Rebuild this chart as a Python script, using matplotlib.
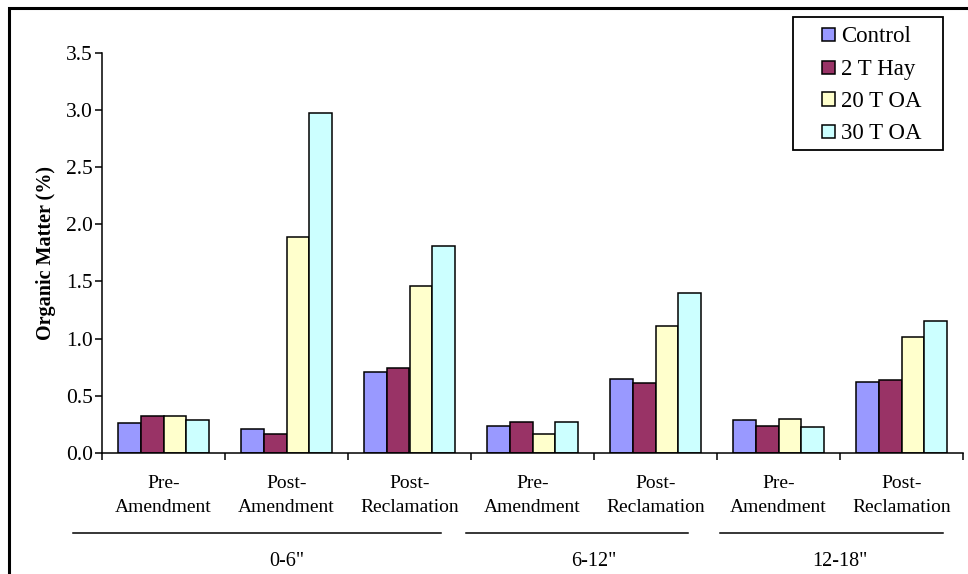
import numpy as np
import matplotlib
matplotlib.use("Agg")
import matplotlib.pyplot as plt
from matplotlib.patches import Rectangle
from matplotlib.lines import Line2D

plt.rcParams['font.family'] = ['Liberation Serif', 'DejaVu Serif']

categories = ["Pre-\nAmendment", "Post-\nAmendment", "Post-\nReclamation",
              "Pre-\nAmendment", "Post-\nReclamation",
              "Pre-\nAmendment", "Post-\nReclamation"]
depths = ['0-6"', '6-12"', '12-18"']
depth_spans = [3, 2, 2]

series_names = ["Control", "2 T Hay", "20 T OA", "30 T OA"]
control = [0.26, 0.21, 0.71, 0.24, 0.65, 0.29, 0.62]
hay_2t = [0.32, 0.17, 0.74, 0.27, 0.61, 0.24, 0.64]
oa_20t = [0.32, 1.89, 1.46, 0.17, 1.11, 0.30, 1.01]
oa_30t = [0.29, 2.97, 1.81, 0.27, 1.40, 0.23, 1.15]
colors = ["#9999FF", "#993366", "#FFFFCC", "#CCFFFF"]

W, H = 968, 574
fig = plt.figure(figsize=(W / 100, H / 100), dpi=100)


def fx(px):
    return px / W


def fy(py):
    return 1 - py / H


# outer frame around the chart area (continues past the right and bottom edges)
fig.patches.append(Rectangle((fx(9), -0.05), 1.2, fy(8) + 0.05,
                             transform=fig.transFigure, fill=False,
                             edgecolor="black", linewidth=2.2, clip_on=False))

ax = fig.add_axes([fx(102), fy(453), fx(963 - 102), (453 - 52.7) / H])

n = len(categories)
x = np.arange(n)
bw = 0.184
all_series = [control, hay_2t, oa_20t, oa_30t]
for i, (vals, c, name) in enumerate(zip(all_series, colors, series_names)):
    offs = (i - 1.5) * bw
    ax.bar(x + offs, vals, width=bw, color=c, edgecolor="black",
           linewidth=1.1, label=name)

ax.set_xlim(-0.5, n - 0.5)
ax.set_ylim(0, 3.5)
yt = np.arange(0, 3.51, 0.5)
ax.set_yticks(yt)
ax.set_yticklabels([f"{v:.1f}" for v in yt], fontsize=15.5)
ax.set_xticks(np.arange(-0.5, n, 1.0))
ax.set_xticklabels([])
ax.tick_params(axis="x", direction="out", length=5, width=1.1)
ax.tick_params(axis="y", direction="out", length=5, width=1.1, pad=1.5)
for s in ("top", "right"):
    ax.spines[s].set_visible(False)
for s in ("left", "bottom"):
    ax.spines[s].set_linewidth(1.1)

ax.set_ylabel("Organic Matter (%)", fontsize=14.5, fontweight="bold")
ax.yaxis.set_label_coords((56 - 102) / (963 - 102), 0.5)

# category labels under each tick interval
for xi, lab in zip(x, categories):
    ax.text(xi, -0.056, lab, transform=ax.get_xaxis_transform(), ha="center",
            va="top", fontsize=14, linespacing=1.5)

# depth group underlines and labels
seg_px = [(73, 441), (466, 688), (720, 943)]
start = 0
for (x0p, x1p), name, span in zip(seg_px, depths, depth_spans):
    fig.lines.append(Line2D([fx(x0p), fx(x1p)], [fy(532.5)] * 2,
                            transform=fig.transFigure, color="black", lw=1.1))
    cx = start + (span - 1) / 2
    ax.text(cx, -0.248, name, transform=ax.get_xaxis_transform(), ha="center",
            va="top", fontsize=14.5)
    start += span

# legend box
fig.patches.append(Rectangle((fx(793), fy(150)), fx(943 - 793), (150 - 17) / H,
                             transform=fig.transFigure, facecolor="white",
                             edgecolor="black", linewidth=1.3, zorder=5))
row_y = [34.5, 67.5, 99, 131.5]
for name, c, ry in zip(series_names, colors, row_y):
    fig.patches.append(Rectangle((fx(822), fy(ry + 6.5)), fx(13), 13 / H,
                                 transform=fig.transFigure, facecolor=c,
                                 edgecolor="black", linewidth=1.1, zorder=6))
    fig.text(fx(841), fy(ry), name, ha="left", va="center_baseline",
             fontsize=16.5, zorder=7)

fig.savefig("out.png", dpi=100)
